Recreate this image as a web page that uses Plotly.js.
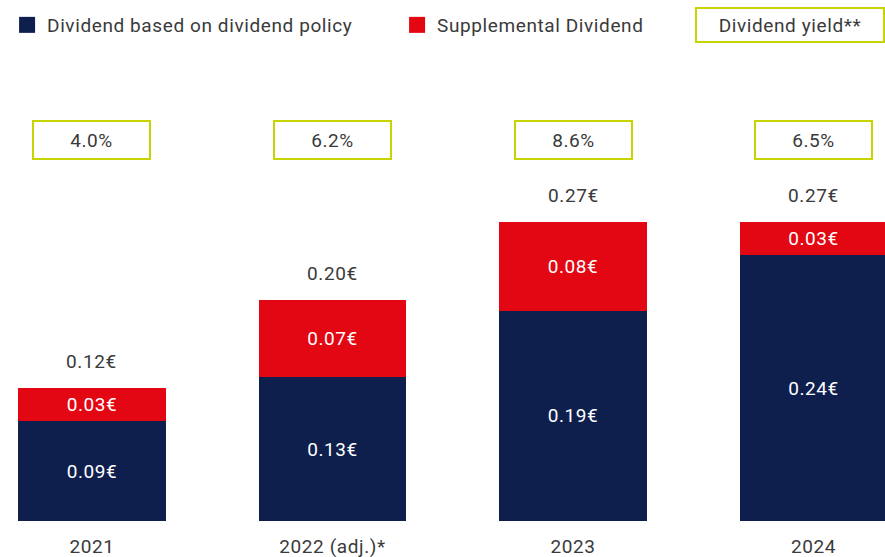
<!DOCTYPE html>
<html>
<head>
<meta charset="utf-8">
<script src="https://cdn.plot.ly/plotly-3.0.1.min.js"></script>
<style>
html,body{margin:0;padding:0;background:#fff;}
#chart{width:885px;height:557px;}
text{letter-spacing:0.6px;}
</style>
</head>
<body>
<div id="chart"></div>
<script>
const years = ["2021", "2022 (adj.)*", "2023", "2024"];
const policyDividend = [0.09, 0.13, 0.19, 0.24];
const supplementalDividend = [0.03, 0.07, 0.08, 0.03];
const totalDividend = [0.12, 0.20, 0.27, 0.27];
const dividendYield = ["4.0%", "6.2%", "8.6%", "6.5%"];
const seriesNames = ["Dividend based on dividend policy", "Supplemental Dividend"];

const NAVY = "#0e1f4e", RED = "#e30613", LIME = "#c8d400", TXT = "#3a3a3a";
const FONT = "Roboto, 'DejaVu Sans', sans-serif";
const FS = 19;
const fmt = v => v.toFixed(2) + "€";

const traces = [
  {
    type: "bar", name: seriesNames[0], showlegend: false,
    x: years, y: policyDividend,
    text: policyDividend.map(fmt), textposition: "inside",
    insidetextanchor: "middle", textangle: 0,
    textfont: {color: "#ffffff", size: FS, family: FONT},
    marker: {color: NAVY}, width: 0.615, hoverinfo: "none"
  },
  {
    type: "bar", name: seriesNames[1], showlegend: false,
    x: years, y: supplementalDividend,
    text: supplementalDividend.map(fmt), textposition: "inside",
    insidetextanchor: "middle", textangle: 0,
    textfont: {color: "#ffffff", size: FS, family: FONT},
    marker: {color: RED}, width: 0.615, hoverinfo: "none"
  },
  // legend swatches (no data points)
  {
    type: "scatter", mode: "markers", name: seriesNames[0],
    x: [null], y: [null],
    marker: {symbol: "square", size: 16, color: NAVY, line: {width: 0}}
  },
  {
    type: "scatter", mode: "markers", name: seriesNames[1],
    x: [null], y: [null],
    marker: {symbol: "square", size: 16, color: RED, line: {width: 0}}
  }
];

const annotations = [];
years.forEach((yr, i) => {
  annotations.push({
    x: i, y: totalDividend[i], xref: "x", yref: "y",
    text: fmt(totalDividend[i]), showarrow: false,
    xanchor: "center", yanchor: "bottom", yshift: 13,
    font: {size: FS, color: TXT, family: FONT}
  });
  annotations.push({
    x: i, y: 0.8265, xref: "x", yref: "paper",
    text: dividendYield[i], showarrow: false,
    xanchor: "center", yanchor: "middle",
    width: 113, height: 34, bordercolor: LIME, borderwidth: 2, borderpad: 1,
    font: {size: FS, color: TXT, family: FONT}
  });
});
annotations.push({
  x: 0.8927, y: 1.0759, xref: "paper", yref: "paper",
  xanchor: "center", yanchor: "middle",
  text: "Dividend yield**", showarrow: false,
  width: 184, height: 30, bordercolor: LIME, borderwidth: 2, borderpad: 1,
  font: {size: FS, color: TXT, family: FONT}
});

const layout = {
  width: 885, height: 557,
  margin: {l: 0, r: 0, t: 60, b: 36},
  barmode: "stack",
  paper_bgcolor: "#ffffff", plot_bgcolor: "#ffffff",
  font: {family: FONT, color: TXT, size: FS},
  showlegend: true,
  legend: {
    orientation: "h", x: 0.008, y: 1.0759, xanchor: "left", yanchor: "middle",
    entrywidth: 345, entrywidthmode: "pixels", itemsizing: "trace",
    font: {size: FS, color: TXT, family: FONT}, traceorder: "normal"
  },
  xaxis: {
    type: "category", range: [-0.3825, 3.2973],
    showgrid: false, zeroline: false, showline: false,
    ticks: "outside", ticklen: 8, tickcolor: "rgba(0,0,0,0)",
    tickfont: {size: FS, color: TXT, family: FONT}, fixedrange: true
  },
  yaxis: {
    range: [0, 0.4164], visible: false, showgrid: false, zeroline: false, fixedrange: true
  },
  annotations: annotations
};

Plotly.newPlot("chart", traces, layout, {displayModeBar: false, staticPlot: true});
</script>
</body>
</html>
